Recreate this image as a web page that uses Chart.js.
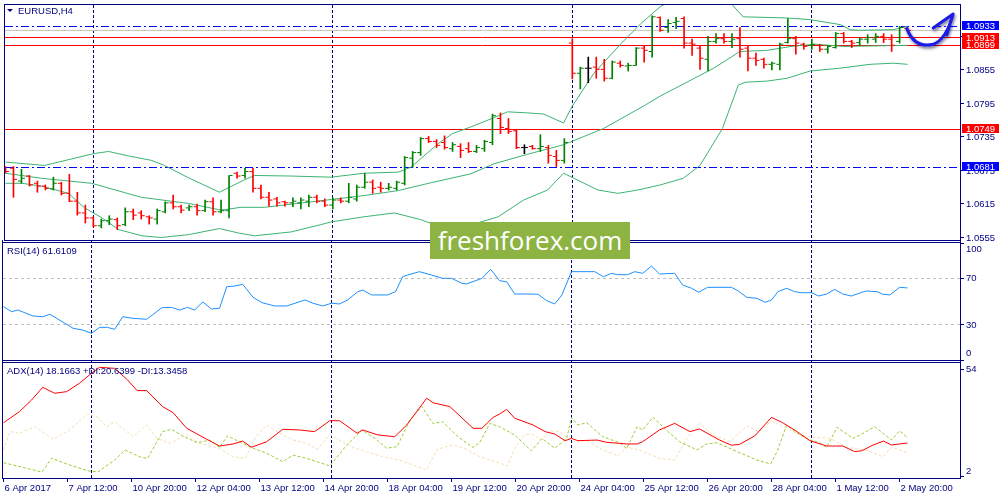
<!DOCTYPE html>
<html>
<head>
<meta charset="utf-8">
<script src="https://cdn.jsdelivr.net/npm/chart.js@4.4.0/dist/chart.umd.min.js"></script>
<style>
  html, body { margin: 0; padding: 0; background: #fff; }
  #wrap { position: relative; width: 1000px; height: 500px; overflow: hidden; }
  #wrap canvas { position: absolute; left: 0; top: 0; }
  #logo { position: absolute; left: 430px; top: 222px; width: 200px; height: 37px; background: #8db443;
          color: #fff; font: 26px "Open Sans", sans-serif; line-height: 36px; text-align: center; }
</style>
</head>
<body>
<div id="wrap">
  <canvas id="main" width="1000" height="500"></canvas>
  <canvas id="rsi" width="1000" height="500"></canvas>
  <canvas id="adx" width="1000" height="500"></canvas>
  <div id="logo">freshforex.com</div>
</div>
<script>
'use strict'

// EURUSD H4 bars, index 0 = first bar on screen
var opens = [1.0681,1.0679,1.0656,1.0665,1.0652,1.0647,1.0642,1.0652,1.0634,1.0620,
  1.0599,1.0590,1.0576,1.0585,1.0587,1.0578,1.0601,1.0599,1.0592,1.0588,
  1.0601,1.0617,1.0610,1.0608,1.0610,1.0603,1.0619,1.0601,1.0603,1.0670,
  1.0666,1.0673,1.0643,1.0627,1.0624,1.0619,1.0617,1.0617,1.0620,1.0627,
  1.0620,1.0613,1.0622,1.0620,1.0624,1.0645,1.0654,1.0645,1.0643,1.0643,
  1.0652,1.0697,1.0707,1.0732,1.0727,1.0725,1.0714,1.0718,1.0714,1.0709,
  1.0714,1.0725,1.0768,1.0750,1.0746,1.0716,1.0718,1.0714,1.0716,1.0700,
  1.0693,1.0903,1.0849,1.0858,1.0860,1.0856,1.0840,1.0867,1.0862,1.0863,
  1.0894,1.0888,1.0949,1.0931,1.0940,1.0947,1.0903,1.0894,1.0874,1.0906,
  1.0911,1.0906,1.0911,1.0894,1.0876,1.0874,1.0865,1.0865,1.0904,1.0911,
  1.0901,1.0899,1.0899,1.0892,1.0895,1.0920,1.0906,1.0904,1.0910,1.0910,
  1.0915,1.0910,1.0906,1.0929]
var highs = [1.0682,1.0682,1.0677,1.0666,1.0656,1.0649,1.0663,1.0654,1.0668,1.0636,
  1.0613,1.0592,1.0588,1.0594,1.0590,1.0608,1.0606,1.0603,1.0594,1.0606,
  1.0619,1.0631,1.0613,1.0613,1.0615,1.0622,1.0626,1.0622,1.0666,1.0672,
  1.0679,1.0679,1.0649,1.0636,1.0627,1.0620,1.0626,1.0626,1.0631,1.0631,
  1.0624,1.0626,1.0626,1.0652,1.0649,1.0670,1.0658,1.0654,1.0652,1.0656,
  1.0700,1.0709,1.0734,1.0736,1.0730,1.0737,1.0725,1.0723,1.0725,1.0720,
  1.0729,1.0776,1.0778,1.0768,1.0748,1.0721,1.0720,1.0739,1.0720,1.0711,
  1.0732,1.0911,1.0860,1.0878,1.0878,1.0874,1.0871,1.0871,1.0867,1.0895,
  1.0899,1.0952,1.0950,1.0945,1.0949,1.0950,1.0910,1.0897,1.0915,1.0920,
  1.0920,1.0920,1.0931,1.0897,1.0885,1.0876,1.0869,1.0903,1.0947,1.0915,
  1.0903,1.0910,1.0901,1.0899,1.0922,1.0922,1.0908,1.0913,1.0918,1.0920,
  1.0920,1.0918,1.0933,1.0931]
var lows = [1.0670,1.0627,1.0652,1.0647,1.0636,1.0640,1.0640,1.0631,1.0619,1.0595,
  1.0581,1.0574,1.0572,1.0578,1.0569,1.0576,1.0587,1.0588,1.0579,1.0579,
  1.0599,1.0606,1.0599,1.0603,1.0595,1.0601,1.0595,1.0599,1.0590,1.0661,
  1.0661,1.0636,1.0624,1.0611,1.0611,1.0611,1.0610,1.0606,1.0610,1.0617,
  1.0610,1.0606,1.0617,1.0617,1.0620,1.0643,1.0634,1.0636,1.0640,1.0640,
  1.0649,1.0681,1.0702,1.0725,1.0716,1.0713,1.0709,1.0698,1.0707,1.0707,
  1.0709,1.0721,1.0741,1.0741,1.0714,1.0705,1.0713,1.0709,1.0688,1.0682,
  1.0688,1.0839,1.0821,1.0832,1.0840,1.0835,1.0839,1.0860,1.0853,1.0863,
  1.0869,1.0878,1.0924,1.0922,1.0929,1.0894,1.0881,1.0856,1.0853,1.0903,
  1.0903,1.0895,1.0878,1.0853,1.0863,1.0858,1.0855,1.0855,1.0903,1.0883,
  1.0892,1.0892,1.0888,1.0885,1.0894,1.0903,1.0895,1.0899,1.0903,1.0904,
  1.0904,1.0888,1.0903,1.0926]
var closes = [1.0673,1.0659,1.0661,1.0649,1.0647,1.0643,1.0652,1.0634,1.0620,1.0599,
  1.0590,1.0576,1.0585,1.0588,1.0576,1.0601,1.0595,1.0594,1.0590,1.0603,
  1.0617,1.0610,1.0604,1.0610,1.0603,1.0619,1.0601,1.0603,1.0666,1.0665,
  1.0673,1.0643,1.0627,1.0622,1.0617,1.0617,1.0620,1.0622,1.0627,1.0620,
  1.0613,1.0622,1.0620,1.0627,1.0645,1.0654,1.0643,1.0643,1.0645,1.0654,
  1.0698,1.0707,1.0732,1.0727,1.0720,1.0716,1.0721,1.0711,1.0709,1.0716,
  1.0727,1.0773,1.0752,1.0745,1.0716,1.0716,1.0714,1.0718,1.0702,1.0693,
  1.0725,1.0849,1.0858,1.0858,1.0856,1.0840,1.0869,1.0863,1.0863,1.0894,
  1.0890,1.0950,1.0926,1.0938,1.0942,1.0903,1.0901,1.0876,1.0906,1.0911,
  1.0906,1.0910,1.0892,1.0876,1.0872,1.0865,1.0867,1.0901,1.0911,1.0903,
  1.0897,1.0901,1.0892,1.0897,1.0920,1.0906,1.0903,1.0910,1.0913,1.0915,
  1.0910,1.0899,1.0931,1.0926]

// Bollinger bands (bar index / price)
var bbUpperAt = [0,4.9,11,12.9,15.4,18.3,19.9,22.9,26.8,29.9,31.2,35.8,40.8,44.9,49.2,50.8,54.2,56,58.3,61.1,
  62.9,65.4,67.4,69.9,71,73.7,77.1,79.6,82,85,88,91,92.4,97.9,100.8,104.6,105.8,107,111.2,113]
var bbUpper = [1.0690,1.0684,1.0705,1.0709,1.0701,1.0693,1.0684,1.0662,1.0636,1.0658,1.0666,1.0665,1.0663,1.0670,1.0672,1.0681,1.0723,1.0741,1.0753,1.0769,
  1.0780,1.0778,1.0776,1.0760,1.0790,1.0849,1.0902,1.0938,1.0968,1.0992,1.0996,1.0972,1.0950,1.0948,1.0945,1.0936,1.0927,1.0926,1.0927,1.0933]
var bbMidAt = [0,4.5,10.8,17,22.9,27,29.5,32.4,40.8,44.9,49.2,53.3,58.3,61.2,65.4,69.9,74.9,79.9,82,88.7,92,95.4,98.4,101.5,105,113]
var bbMid = [1.0670,1.0661,1.0652,1.0627,1.0616,1.0604,1.0609,1.0609,1.0623,1.0630,1.0639,1.0653,1.0669,1.0687,1.0704,1.0721,1.0750,1.0790,1.0808,1.0858,
  1.0888,1.0890,1.0897,1.0901,1.0897,1.0899]
var bbLowAt = [0,2.1,4.5,7.9,9.9,12.1,14.2,17.1,19.5,22.9,26.8,29.2,31.2,35.8,39.5,40.8,44.9,48.7,52,54.5,
  57,61.7,64.9,67.9,69.9,71.2,74.2,76.7,79.2,82,84.9,87,89.8,91.8,92.7,95.4,97.9,100.8,104.5,108.3,111.2,113]
var bbLow = [1.0652,1.0652,1.0647,1.0634,1.0608,1.0590,1.0569,1.0558,1.0555,1.0560,1.0571,1.0563,1.0558,1.0565,1.0578,1.0583,1.0592,1.0599,1.0587,1.0574,
  1.0572,1.0592,1.0622,1.0640,1.0670,1.0661,1.0640,1.0634,1.0640,1.0649,1.0661,1.0684,1.0750,1.0828,1.0833,1.0835,1.0840,1.0853,1.0858,1.0865,1.0867,1.0865]

// RSI(14)
var rsiAt = [0,1,1.8,3.7,4.9,5.8,6.8,8.7,9.9,11,12,13,13.9,14.9,16.2,17.9,19.8,21,22,23,
  23.9,24.9,26,27,27.9,28.9,29.9,31.2,32.3,33.9,35.4,37.7,38.7,39.9,41,42,43,44.3,44.9,46,
  48,49,49.9,50.5,52,53.5,54.9,56,57.3,57.9,59.8,60.9,62,62.9,63.9,65.5,66.8,67.9,68.9,69.8,
  71,73.9,75,76,76.8,78,78.9,79.9,81,82,83.9,84.9,86,86.9,88,91,91.8,92.9,94.2,95.2,
  96,96.8,97.9,98.9,99.8,101,101.9,102.9,103.9,104.9,106,107.3,107.9,109.2,109.9,110.8,112,113]
var rsiVals = [45.6,41.3,42.7,37.6,37.0,39.1,35.0,27.1,25.6,22.8,27.9,27.9,26.2,37.0,35.6,34.8,44.7,45.0,42.7,45.0,
  42.7,49.6,43.6,44.2,62.6,63.2,64.7,53.6,49.0,46.2,46.2,51.3,48.5,46.2,48.5,47.9,51.3,58.4,59.8,55.6,
  55.6,58.4,71.2,72.6,75.5,72.6,69.8,69.8,65.6,65.0,69.8,77.5,67.8,66.8,56.4,56.4,56.2,50.7,47.9,55.6,
  75.5,75.5,71.2,74.1,72.9,72.9,75.5,74.1,80.3,73.5,74.1,64.1,61.3,57.9,62.1,62.1,59.2,53.6,52.7,49.3,
  51.3,58.4,61.3,58.4,57.5,57.5,54.7,56.4,60.4,56.4,54.7,57.9,59.0,58.4,56.2,55.6,62.1,61.6109]

// ADX(14), +DI, -DI
var adxAt = [0,2,3.5,4.9,6.4,7.9,9.5,11,12,13.9,15.5,16.7,17.9,19.9,21.2,22.9,25.2,27,28.7,29.9,
  31,32.9,34.9,37,38.9,40.8,42,44.2,44.9,46.8,48.9,50.4,52.9,53.7,55.8,58.7,59.8,61.2,62,62.9,
  63.9,66.2,67.7,68.9,70.2,71,71.8,74.2,75.4,77.9,79.2,79.9,82,83.9,85.8,87,89.5,91,92,93.9,
  96,97.4,99.2,100.8,102.9,104.9,106.4,107.3,108.7,110,111,112,113]
var adxVals = [28.0,33.4,39.0,45.2,42.3,43.1,47.2,52.0,54.9,54.4,48.8,43.6,43.6,35.8,32.9,25.3,20.4,16.7,17.7,19.1,
  16.1,18.8,24.8,24.5,23.7,29.0,29.0,22.9,24.5,22.1,21.2,26.9,39.9,37.7,35.8,25.3,25.3,30.6,32.2,34.5,
  30.2,26.9,23.7,22.5,19.3,20.4,19.3,19.6,18.5,17.7,17.7,18.8,24.5,27.7,23.7,25.0,19.6,17.1,17.5,21.6,
  30.6,28.0,23.7,19.3,16.7,16.7,14.0,14.4,17.2,19.1,17.2,17.7,18.1663]
var pdiAt = [0,2.9,4.8,6,7.9,10.5,11.8,13.9,15.2,17,18,19.9,21,22.4,24.2,25.8,27,28,29.5,31.2,
  32.9,34.9,36.2,37.9,40.8,42.9,44.8,46.7,47.9,49.2,50.8,52.3,53.7,54.9,56.8,58.7,59.5,60.8,62,63.9,
  66,67.3,68.9,70.4,71,71.8,72.9,74.9,77,77.9,79.2,79.9,81.2,83.3,84.5,86.7,87.9,89.2,91.7,94.2,
  95.9,96.7,97.9,99.5,100.8,102,102.9,104.2,106.2,107.3,108.9,111,112,113]
var pdiVals = [8.6,5.9,4.0,10.8,8.0,4.7,4.1,9.9,14.8,11.5,10.7,23.7,24.8,21.6,18.3,19.6,16.1,21.6,18.8,15.6,
  13.2,9.1,12.3,10.7,7.0,17.2,24.5,19.6,15.6,16.4,29.3,35.9,27.6,28.5,21.2,16.0,18.3,27.7,26.1,22.0,
  14.4,20.4,15.6,20.4,30.6,26.9,28.0,21.2,18.3,15.6,26.1,24.5,30.6,22.9,18.8,14.8,17.7,18.3,14.0,9.9,
  8.0,14.0,26.9,22.1,19.6,18.3,16.1,25.8,20.4,22.5,26.1,19.6,24.1,20.6399]
var mdiAt = [0,0.8,2,3.9,6.2,8.3,10.4,11.7,12.9,13.9,16.2,17.9,19.2,20.8,22.9,24.5,27,28.7,30.2,31.4,
  32.9,34.5,36.2,37.9,39.2,40.8,42,43.7,45.4,47.4,49.5,51.2,52.9,54.2,56.2,57.9,59.5,62,63,63.9,
  65.2,66.2,67.3,68.3,69.5,71,72.9,74.5,76.8,77.9,79.5,82,83.9,85.4,87,88.7,90.8,92.9,94.5,96,
  97.9,99.5,101.2,103.3,105.4,107.7,109.9,111,112.4,113]
var mdiVals = [14.8,23.7,22.9,26.1,20.0,24.5,32.2,30.9,26.1,28.5,21.2,26.9,20.4,18.0,22.1,18.0,15.6,11.5,10.7,20.4,
  26.9,22.9,19.6,18.0,15.1,22.1,19.6,16.1,13.9,11.5,9.9,7.5,5.1,15.1,17.2,15.1,11.5,8.5,7.0,15.6,
  22.5,22.1,19.6,24.1,23.7,18.8,19.3,15.6,11.9,16.1,14.8,10.7,9.9,20.4,27.7,22.1,18.8,26.4,23.7,29.0,
  25.3,22.1,21.0,20.4,16.1,14.8,11.5,16.1,14.4,13.3458]

// axes, levels, labels
var timeLabels = ['6 Apr 2017','7 Apr 12:00','10 Apr 20:00','12 Apr 04:00','13 Apr 12:00','14 Apr 20:00',
  '18 Apr 04:00','19 Apr 12:00','20 Apr 20:00','24 Apr 04:00','25 Apr 12:00','26 Apr 20:00',
  '28 Apr 04:00','1 May 12:00','2 May 20:00']
var timeBars = [0,8,16,24,32,40,48,56,64,72,80,88,96,104,112]
var weekBars = [11,41,71,101]
var priceTicks = [1.0915,1.0855,1.0795,1.0735,1.0675,1.0615,1.0555]
var redLevels = [1.0913,1.0899,1.0749]
var blueLevels = [1.0933,1.0681]
var rsiTicks = [100,70,30,0]
var rsiLevels = [70,30]
var adxTicks = [54,2]

// hand drawn arrow (bar index / price)
var arrowAt = [112.9,113.9,116.2,117.8,118.7,116.2,117.9]
var arrowPrice = [1.0929,1.0893,1.0901,1.0909,1.0955,1.0930,1.0918]

var FONT = '9.5px "Liberation Sans", Arial, sans-serif'
var NAVY = '#000080'
var BB = '#3cb371'

var barColors = closes.map(function (c, i) {
  return c > opens[i] ? '#008000' : (c < opens[i] ? '#ff0000' : '#000000')
})

function pts(xs, ys) {
  return xs.map(function (x, i) { return { x: x, y: ys[i] } })
}

function xAxis() {
  return { type: 'linear', min: -0.0625, max: 119.5625, display: false, offset: false }
}

function baseOptions(pad, y) {
  return {
    responsive: false, animation: false, events: [], devicePixelRatio: 1,
    layout: { padding: pad },
    plugins: { legend: { display: false }, tooltip: { enabled: false } },
    scales: { x: xAxis(), y: y }
  }
}

function line(data, color, dash) {
  return { type: 'line', data: data, borderColor: color, borderWidth: 1, borderDash: dash || [],
           pointRadius: 0, tension: 0, fill: false }
}

function hLine(chart, v, color, dash) {
  var ctx = chart.ctx, a = chart.chartArea
  var y = Math.floor(chart.scales.y.getPixelForValue(v)) + 0.5
  ctx.save()
  ctx.strokeStyle = color
  ctx.lineWidth = 1
  ctx.setLineDash(dash || [])
  ctx.beginPath(); ctx.moveTo(a.left, y); ctx.lineTo(a.right, y); ctx.stroke()
  ctx.restore()
}

function weekLines(chart, ext) {
  var ctx = chart.ctx, a = chart.chartArea
  ctx.save()
  ctx.strokeStyle = NAVY
  ctx.lineWidth = 1
  ctx.setLineDash([3, 2])
  weekBars.forEach(function (b) {
    var x = Math.floor(chart.scales.x.getPixelForValue(b)) + 0.5
    ctx.beginPath(); ctx.moveTo(x, a.top - ext); ctx.lineTo(x, a.bottom); ctx.stroke()
  })
  ctx.restore()
}

function frame(chart, ext) {
  var ctx = chart.ctx, a = chart.chartArea
  ctx.save()
  ctx.strokeStyle = NAVY
  ctx.lineWidth = 1
  ctx.strokeRect(a.left - 0.5, a.top - 0.5, a.right - a.left + 1, a.bottom - a.top + 1)
  if (ext) {
    ctx.beginPath()
    ctx.moveTo(a.left - 0.5, a.top - ext); ctx.lineTo(a.left - 0.5, a.top)
    ctx.moveTo(a.right + 0.5, a.top - ext); ctx.lineTo(a.right + 0.5, a.top)
    ctx.stroke()
  }
  ctx.restore()
}

function axisLabels(chart, values, fmt, clamp) {
  var ctx = chart.ctx, a = chart.chartArea, s = chart.scales.y
  ctx.save()
  ctx.font = FONT
  ctx.fillStyle = NAVY
  ctx.strokeStyle = NAVY
  ctx.textBaseline = 'middle'
  values.forEach(function (v) {
    var y = s.getPixelForValue(v)
    var ty = Math.floor(y) + 0.5
    ctx.beginPath(); ctx.moveTo(a.right + 1, ty); ctx.lineTo(a.right + 4, ty); ctx.stroke()
    if (clamp) y = Math.min(Math.max(y, a.top + 6), a.bottom - 7)
    ctx.fillText(fmt(v), a.right + 6, y + 0.5)
  })
  ctx.restore()
}

function priceBox(chart, v, color) {
  var ctx = chart.ctx, a = chart.chartArea
  var y = Math.round(chart.scales.y.getPixelForValue(v))
  ctx.save()
  ctx.fillStyle = color
  ctx.fillRect(a.right + 2, y - 5, 37, 9)
  ctx.font = FONT
  ctx.fillStyle = '#ffffff'
  ctx.textBaseline = 'middle'
  ctx.fillText(v.toFixed(4), a.right + 6, y)
  ctx.restore()
}

function title(chart, text, x, y) {
  var ctx = chart.ctx
  ctx.save()
  ctx.font = FONT
  ctx.fillStyle = NAVY
  ctx.textBaseline = 'middle'
  ctx.fillText(text, x, y)
  ctx.restore()
}

function drawArrow(chart) {
  var ctx = chart.ctx, xs = chart.scales.x, ys = chart.scales.y
  var p = arrowAt.map(function (x, i) { return [xs.getPixelForValue(x), ys.getPixelForValue(arrowPrice[i])] })
  ctx.save()
  ctx.strokeStyle = '#1c1ce6'
  ctx.lineWidth = 3
  ctx.lineCap = 'round'
  ctx.lineJoin = 'round'
  ctx.shadowColor = 'rgba(0,0,60,0.55)'
  ctx.shadowBlur = 3
  ctx.shadowOffsetX = 1
  ctx.shadowOffsetY = 2
  ctx.beginPath()
  ctx.moveTo(p[0][0], p[0][1])
  ctx.quadraticCurveTo(p[1][0], p[1][1], p[2][0], p[2][1])
  ctx.quadraticCurveTo(p[3][0], p[3][1], p[4][0], p[4][1])
  ctx.moveTo(p[5][0], p[5][1])
  ctx.lineTo(p[4][0], p[4][1])
  ctx.lineTo(p[6][0], p[6][1])
  ctx.stroke()
  ctx.restore()
}

//wykres glowny

var mainPanel = {
  id: 'mainPanel',
  beforeDatasetsDraw: function (chart) {
    weekLines(chart, 0)
    hLine(chart, closes[closes.length - 1], '#c8c8c8')
    redLevels.forEach(function (v) { hLine(chart, v, '#ff0000') })
    blueLevels.forEach(function (v) { hLine(chart, v, '#0000ff', [8, 3, 2, 3]) })
  },
  afterDraw: function (chart) {
    var ctx = chart.ctx
    frame(chart, 0)
    axisLabels(chart, priceTicks, function (v) { return v.toFixed(4) }, false)
    priceBox(chart, blueLevels[0], '#0000ff')
    // lower boxes first so the upper red one stays readable
    redLevels.slice().reverse().forEach(function (v) { priceBox(chart, v, '#ff0000') })
    priceBox(chart, blueLevels[1], '#0000ff')
    ctx.save()
    ctx.fillStyle = NAVY
    ctx.beginPath(); ctx.moveTo(7, 9); ctx.lineTo(13, 9); ctx.lineTo(10, 12); ctx.closePath(); ctx.fill()
    ctx.restore()
    title(chart, 'EURUSD,H4', 18, 11)
    drawArrow(chart)
  }
}

new Chart(document.getElementById('main'), {
  type: 'bar',
  data: {
    datasets: [
      { type: 'bar', data: highs.map(function (h, i) { return { x: i, y: [lows[i], h] } }),
        backgroundColor: barColors, barThickness: 1, borderWidth: 0 },
      { type: 'scatter', data: opens.map(function (o, i) { return { x: i - 0.25, y: o } }),
        pointStyle: 'line', pointRadius: 1.5, pointBorderColor: barColors, pointBorderWidth: 1 },
      { type: 'scatter', data: closes.map(function (c, i) { return { x: i + 0.25, y: c } }),
        pointStyle: 'line', pointRadius: 1.5, pointBorderColor: barColors, pointBorderWidth: 1 },
      line(pts(bbUpperAt, bbUpper), BB),
      line(pts(bbMidAt, bbMid), BB),
      line(pts(bbLowAt, bbLow), BB)
    ]
  },
  options: baseOptions({ left: 3, right: 40, top: 3, bottom: 260 },
    { type: 'linear', display: false, min: 1.05505, max: 1.09712 }),
  plugins: [mainPanel]
})

//RSI

var rsiPanel = {
  id: 'rsiPanel',
  beforeDatasetsDraw: function (chart) {
    weekLines(chart, 3)
    rsiLevels.forEach(function (v) { hLine(chart, v, '#c0c0c0', [3, 3]) })
  },
  afterDraw: function (chart) {
    frame(chart, 3)
    axisLabels(chart, rsiTicks, String, true)
    title(chart, 'RSI(14) ' + rsiVals[rsiVals.length - 1].toFixed(4), 7, 251.5)
  }
}

new Chart(document.getElementById('rsi'), {
  type: 'line',
  data: { datasets: [ line(pts(rsiAt, rsiVals), '#1e90ff') ] },
  options: baseOptions({ left: 3, right: 40, top: 243, bottom: 140 },
    { type: 'linear', display: false, min: 0, max: 100 }),
  plugins: [rsiPanel]
})

//ADX

var adxPanel = {
  id: 'adxPanel',
  beforeDatasetsDraw: function (chart) {
    weekLines(chart, 3)
  },
  afterDraw: function (chart) {
    var ctx = chart.ctx, a = chart.chartArea
    frame(chart, 3)
    axisLabels(chart, adxTicks, String, true)
    title(chart, 'ADX(14) ' + adxVals[adxVals.length - 1].toFixed(4) +
      ' +DI:' + pdiVals[pdiVals.length - 1].toFixed(4) +
      ' -DI:' + mdiVals[mdiVals.length - 1].toFixed(4), 7, 371.5)
    ctx.save()
    ctx.font = FONT
    ctx.fillStyle = NAVY
    ctx.strokeStyle = NAVY
    ctx.textBaseline = 'middle'
    timeBars.forEach(function (b, i) {
      var x = Math.floor(chart.scales.x.getPixelForValue(b)) + 0.5
      ctx.beginPath(); ctx.moveTo(x, a.bottom + 1); ctx.lineTo(x, a.bottom + 4); ctx.stroke()
      ctx.fillText(timeLabels[i], x + 1, a.bottom + 10.5)
    })
    ctx.restore()
  }
}

new Chart(document.getElementById('adx'), {
  type: 'line',
  data: {
    datasets: [
      line(pts(adxAt, adxVals), '#ff0000'),
      line(pts(pdiAt, pdiVals), '#9acd32', [3, 2]),
      line(pts(mdiAt, mdiVals), '#f5deb3', [3, 2])
    ]
  },
  options: baseOptions({ left: 3, right: 40, top: 363, bottom: 22 },
    { type: 'linear', display: false, min: 1.18, max: 57.0 }),
  plugins: [adxPanel]
})
</script>
</body>
</html>
